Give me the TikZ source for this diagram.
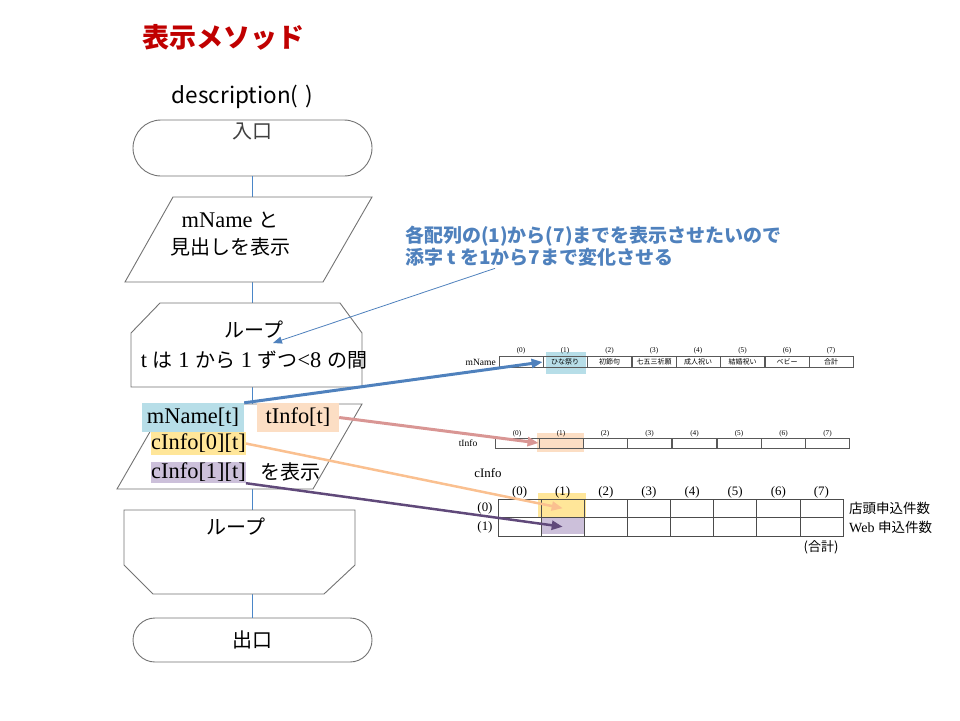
\documentclass[tikz,border=0pt]{standalone}
\usepackage{fontspec}
\setmainfont{Liberation Serif}[Scale=1.12]
\newfontfamily\jp{Noto Sans CJK JP}
\usepackage{tikz}
\usetikzlibrary{positioning, arrows.meta}

\definecolor{flowblue}{RGB}{74,134,200}
\definecolor{noteblue}{RGB}{79,129,189}
\definecolor{titlered}{RGB}{192,0,0}
\definecolor{hlcyan}{RGB}{183,222,232}
\definecolor{hlpeach}{RGB}{252,222,196}
\definecolor{hlyellow}{RGB}{255,230,153}
\definecolor{hlpurple}{RGB}{204,192,218}
\definecolor{rosearrow}{RGB}{217,150,148}
\definecolor{orangearrow}{RGB}{250,192,144}
\definecolor{purplearrow}{RGB}{96,73,122}

\begin{document}
\begin{tikzpicture}[x=1pt, y=-1pt,
    box/.style={draw=black!55, line width=0.9pt, fill=white},
    term/.style={box, minimum width=239pt, inner sep=0pt},
    txt/.style={font=\fontsize{20}{27}\selectfont, align=center, inner sep=0pt},
    hl/.style={font=\fontsize{20}{24}\selectfont, inner sep=0pt},
    cell/.style={draw=black!65, line width=0.6pt, minimum width=44.25pt,
                 inner sep=0pt, label distance=1.5pt},
    ccell/.style={draw=black!70, line width=0.7pt, minimum width=43.1pt,
                  minimum height=18.5pt, inner sep=0pt, label distance=2pt},
    idx/.style={font=\fontsize{6.5}{7}\selectfont, inner sep=0pt},
    cidx/.style={font=\fontsize{11.5}{12}\selectfont, inner sep=0pt},
    big/.style={-{Triangle[length=11pt,width=9pt]}, line width=3pt}]

        \useasboundingbox (0,0) rectangle (960,720);

        \node[anchor=west, text=titlered, font=\jp\bfseries\fontsize{27}{30}\selectfont]
              (title) at (139,37) {表示メソッド};
        \node[anchor=west, font=\jp\fontsize{22.5}{26}\selectfont]
              (method) at (168,97) {description(\,\,)};

        % flowchart
        \node[term, minimum height=56pt, rounded corners=28pt,
              label={[txt, below=3pt, text=black!75]north:{\jp 入口}}] (start) at (252.5,148) {};
        \node[term, minimum height=44pt, rounded corners=22pt, txt] (stop) at (252.5,640) {\jp 出口};

        \draw[flowblue, line width=0.9pt] (start.south) -- (stop.north);

        \draw[box] (173,197) -- (372,197) -- (323,282) -- (125,282) -- cycle;
        \node[txt] (disp1) at (230,234) {mName {\jp と}\\{\jp 見出しを表示}};

        \draw[box] (160,303) -- (340,303) -- (362,333) -- (362,387) -- (131,387)
              -- (131,333) -- cycle;
        \node[txt, font=\fontsize{20}{30}\selectfont] (loopA) at (254,345)
              {{\jp ループ}\\t {\jp は} 1 {\jp から} 1 {\jp ずつ}<8 {\jp の間}};

        \draw[box] (166,404) -- (362,404) -- (313,489) -- (117,489) -- cycle;
        \node[hl, fill=hlcyan, minimum width=102pt, minimum height=29pt] (nameT) at (193,417.5) {mName[t]};
        \node[hl, fill=hlpeach, minimum width=82pt, minimum height=29pt] (tinfoT) at (298,417.5) {tInfo[t]};
        \node[hl, fill=hlyellow, minimum width=93pt, minimum height=23pt] (c0T) at (198.5,443.5) {cInfo[0][t]};
        \node[hl, fill=hlpurple, minimum width=93pt, minimum height=21pt] (c1T) at (198.5,472.5) {cInfo[1][t]};
        \node[hl] (showT) at (290,472) {\jp を表示};

        \draw[box] (124,510) -- (355,510) -- (355,565) -- (324,594) -- (153,594)
              -- (124,565) -- cycle;
        \node[txt] (loopB) at (236,527) {\jp ループ};

        % note
        \node[anchor=west, align=left, text=noteblue, inner sep=0pt,
              font=\jp\bfseries\fontsize{19}{22}\selectfont] (note) at (405,246)
              {各配列の(1)から(7)までを表示させたいので\\添字 t を1から7まで変化させる};
        \coordinate (loopTip) at (273,343);
        \draw[noteblue, line width=0.8pt, -{Triangle[length=9pt,width=7pt]}]
              ([xshift=90pt, yshift=-2pt]note.south west) -- (loopTip);

        % mName
        \fill[hlcyan] (546,352) rectangle (586,374);
        \node[anchor=east, font=\fontsize{8.5}{9}\selectfont, inner sep=0pt] (mnLabel) at (496,362) {mName};
        \begin{scope}[every node/.append style={font=\jp\fontsize{7}{7}\selectfont, minimum height=11pt}]
        \node[cell, label={[idx]above:(0)}] (mn0) at (521,362) {};
        \node[cell, label={[idx]above:(1)}] (mn1) at (565,362) {ひな祭り};
        \node[cell, label={[idx]above:(2)}] (mn2) at (609.5,362) {初節句};
        \node[cell, label={[idx]above:(3)}] (mn3) at (654,362) {七五三祈願};
        \node[cell, label={[idx]above:(4)}] (mn4) at (698,362) {成人祝い};
        \node[cell, label={[idx]above:(5)}] (mn5) at (742.5,362) {結婚祝い};
        \node[cell, label={[idx]above:(6)}] (mn6) at (787,362) {ベビー};
        \node[cell, label={[idx]above:(7)}] (mn7) at (831,362) {合計};
        \end{scope}

        % tInfo
        \fill[hlpeach] (537,433) rectangle (584,452);
        \node[font=\fontsize{8.5}{9}\selectfont, inner sep=0pt] (tiLabel) at (468,443) {tInfo};
        \node[cell, minimum height=10pt, label={[idx]above:(0)}] (ti0) at (517,443) {};
        \node[cell, minimum height=10pt, label={[idx]above:(1)}] (ti1) at (561,443) {};
        \node[cell, minimum height=10pt, label={[idx]above:(2)}] (ti2) at (605,443) {};
        \node[cell, minimum height=10pt, label={[idx]above:(3)}] (ti3) at (649.5,443) {};
        \node[cell, minimum height=10pt, label={[idx]above:(4)}] (ti4) at (694.5,443) {};
        \node[cell, minimum height=10pt, label={[idx]above:(5)}] (ti5) at (739,443) {};
        \node[cell, minimum height=10pt, label={[idx]above:(6)}] (ti6) at (783.5,443) {};
        \node[cell, minimum height=10pt, label={[idx]above:(7)}] (ti7) at (827.5,443) {};

        % cInfo
        \fill[hlyellow] (538,493) rectangle (586,517);
        \fill[hlpurple] (542,517) rectangle (585,534);
        \node[font=\fontsize{11.5}{12}\selectfont, inner sep=0pt] (ciLabel) at (488,473) {cInfo};
        \node[cidx] (row0) at (485,508) {(0)};
        \node[cidx] (row1) at (485,527) {(1)};
        \node[ccell, label={[cidx]above:(0)}] (c0-0) at (519.6,508.25) {};
        \node[ccell, label={[cidx]above:(1)}] (c0-1) at (562.7,508.25) {};
        \node[ccell, label={[cidx]above:(2)}] (c0-2) at (605.8,508.25) {};
        \node[ccell, label={[cidx]above:(3)}] (c0-3) at (648.9,508.25) {};
        \node[ccell, label={[cidx]above:(4)}] (c0-4) at (692.1,508.25) {};
        \node[ccell, label={[cidx]above:(5)}] (c0-5) at (735.2,508.25) {};
        \node[ccell, label={[cidx]above:(6)}] (c0-6) at (778.3,508.25) {};
        \node[ccell, label={[cidx]above:(7)}] (c0-7) at (821.4,508.25) {};
        \node[ccell] (c1-0) at (519.6,526.75) {};
        \node[ccell] (c1-1) at (562.7,526.75) {};
        \node[ccell] (c1-2) at (605.8,526.75) {};
        \node[ccell] (c1-3) at (648.9,526.75) {};
        \node[ccell] (c1-4) at (692.1,526.75) {};
        \node[ccell] (c1-5) at (735.2,526.75) {};
        \node[ccell] (c1-6) at (778.3,526.75) {};
        \node[ccell] (c1-7) at (821.4,526.75) {};
        \node[anchor=west, font=\jp\fontsize{13.5}{14}\selectfont, inner sep=0pt] (shop) at (849,508) {店頭申込件数};
        \node[anchor=west, font=\fontsize{12.5}{14}\selectfont, inner sep=0pt] (web) at (849,527) {Web {\jp\fontsize{13.5}{14}\selectfont 申込件数}};
        \node[font=\jp\fontsize{13}{13}\selectfont, inner sep=0pt] (total) at (821,547) {(合計)};

        % arrows
        \draw[big, noteblue] (nameT.north east) -- (mn1.west);
        \draw[big, rosearrow] (tinfoT.east) -- (ti1.west);
        \draw[big, orangearrow, line width=2.5pt] (c0T.east) -- (c0-1.center);
        \draw[big, purplearrow, line width=2.5pt] (c1T.south east) -- (c1-1.center);

      \end{tikzpicture}
\end{document}
